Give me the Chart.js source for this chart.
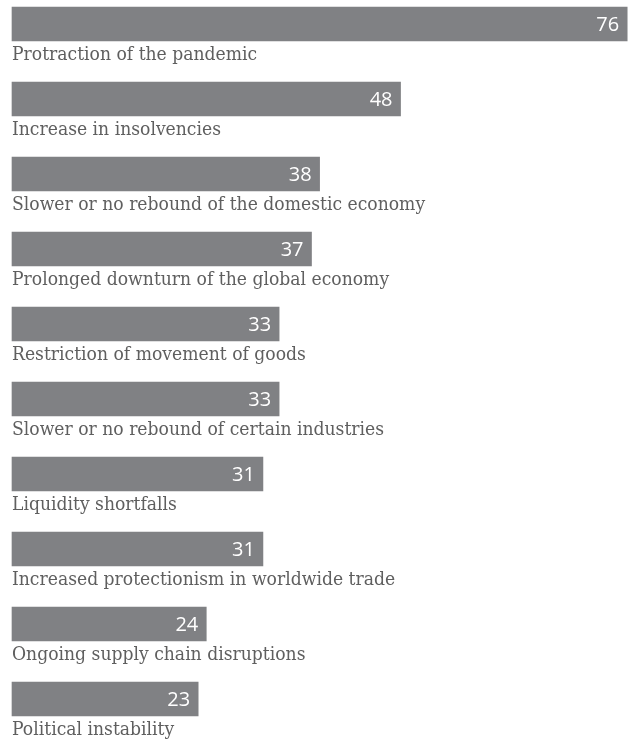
<!DOCTYPE html>
<html>
<head>
<meta charset="utf-8">
<script src="https://cdn.jsdelivr.net/npm/chart.js@4"></script>
<style>
html,body{margin:0;padding:0;background:#fff;}
#wrap{width:629px;height:740px;position:relative;}
</style>
</head>
<body>
<div id="wrap"><canvas id="c"></canvas></div>
<script>
const categories = [
  "Protraction of the pandemic",
  "Increase in insolvencies",
  "Slower or no rebound of the domestic economy",
  "Prolonged downturn of the global economy",
  "Restriction of movement of goods",
  "Slower or no rebound of certain industries",
  "Liquidity shortfalls",
  "Increased protectionism in worldwide trade",
  "Ongoing supply chain disruptions",
  "Political instability"
];
const values = [76, 48, 38, 37, 33, 33, 31, 31, 24, 23];

const labelPlugin = {
  id: 'labelPlugin',
  afterDatasetsDraw(chart) {
    const ctx = chart.ctx;
    const meta = chart.getDatasetMeta(0);
    meta.data.forEach((bar, i) => {
      ctx.save();
      // value inside bar
      ctx.font = '20px "Open Sans"';
      ctx.fillStyle = '#ffffff';
      ctx.textAlign = 'right';
      ctx.textBaseline = 'middle';
      ctx.fillText(String(values[i]), bar.x - 8, bar.y + 1);
      ctx.restore();
      // category below bar (slightly condensed serif)
      ctx.save();
      const sx = 0.905;
      ctx.font = '19px "DejaVu Serif"';
      ctx.fillStyle = '#5f5f5f';
      ctx.textAlign = 'left';
      ctx.textBaseline = 'alphabetic';
      ctx.translate(bar.base, bar.y + 36);
      ctx.scale(sx, 1);
      ctx.fillText(categories[i], 0, 0);
      ctx.restore();
    });
  }
};

new Chart(document.getElementById('c'), {
  type: 'bar',
  data: {
    labels: categories,
    datasets: [{
      data: values,
      backgroundColor: '#808184',
      borderWidth: 0,
      barThickness: 34,
      clip: false
    }]
  },
  options: {
    indexAxis: 'y',
    responsive: true,
    maintainAspectRatio: false,
    animation: false,
    layout: { padding: { left: 12, right: 1, top: 24, bottom: 41 } },
    plugins: { legend: { display: false }, tooltip: { enabled: false } },
    scales: {
      x: { display: false, min: 0, max: 76.1 },
      y: { display: false, offset: false }
    }
  },
  plugins: [labelPlugin]
});
</script>
</body>
</html>
